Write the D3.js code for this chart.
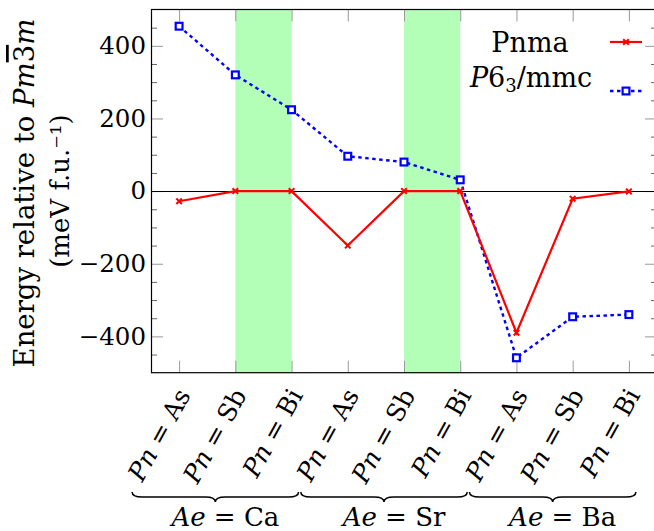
<!DOCTYPE html>
<html>
<head>
<meta charset="utf-8">
<script src="https://cdn.jsdelivr.net/npm/d3@7"></script>
<style>
  body { margin: 0; background: #fff; }
  text { font-family: "DejaVu Serif", serif; fill: #000; }
</style>
</head>
<body>
<svg id="chart" width="654" height="531"></svg>
<script>
// data
var positions = [1, 2, 3, 4, 5, 6, 7, 8, 9];
var pnLabels = ["As", "Sb", "Bi", "As", "Sb", "Bi", "As", "Sb", "Bi"];
var aeGroups = ["Ca", "Sr", "Ba"];
var pnmaValues = [-28, 0, 0, -150, 0, 0, -390, -21, -1];
var p63Values = [454, 320, 224, 96, 80, 31, -459, -346, -340];
var bands = [[2, 3], [5, 6]];
var yMajor = [-400, -200, 0, 200, 400];

var svg = d3.select("#chart"),
    pLeft = 151, pRight = 657, pTop = 9.5, pBottom = 372.7;

var x = d3.scaleLinear().domain([0.5, 9.5]).range([pLeft, pRight]);
var y = d3.scaleLinear().domain([-500, 500]).range([pBottom, pTop]);

var yMinor = d3.range(-450, 500, 50).filter(function (v) { return v % 200 != 0; });

// stretch a text to a given length with letter spacing (the LaTeX font runs wider)
function fitLength(sel, target) {
    sel.each(function () {
        var n = this.getNumberOfChars();
        var len = this.getComputedTextLength();
        if (n > 1 && len < target) d3.select(this).style("letter-spacing", ((target - len) / n) + "px");
    });
}

// green bands
svg.selectAll(".band")
    .data(bands)
    .enter()
    .append("rect")
    .attr("x", function (d) { return x(d[0]); })
    .attr("y", pTop)
    .attr("width", function (d) { return x(d[1]) - x(d[0]); })
    .attr("height", pBottom - pTop)
    .attr("fill", "#b3ffb8");

// ticks (pointing inward)
function tickStyle(g, col) {
    g.select(".domain").remove();
    g.selectAll(".tick line").attr("stroke", col).attr("stroke-width", 1);
}

svg.append("g").attr("transform", "translate(" + pLeft + ",0)")
    .call(d3.axisLeft(y).tickValues(yMinor).tickSize(-6).tickFormat(""))
    .call(tickStyle, "#666");
svg.append("g").attr("transform", "translate(" + pRight + ",0)")
    .call(d3.axisRight(y).tickValues(yMinor).tickSize(-6).tickFormat(""))
    .call(tickStyle, "#666");

var yAxis = svg.append("g").attr("transform", "translate(" + pLeft + ",0)")
    .call(d3.axisLeft(y).tickValues(yMajor).tickSize(-12).tickPadding(5)
        .tickFormat(function (d) { return d < 0 ? "\u2212" + (-d) : d; }))
    .call(tickStyle, "#999");
yAxis.selectAll("text")
    .style("font-family", "'DejaVu Serif', serif")
    .style("font-size", "24.5px")
    .attr("fill", "#000");

svg.append("g").attr("transform", "translate(" + pRight + ",0)")
    .call(d3.axisRight(y).tickValues(yMajor).tickSize(-12).tickFormat(""))
    .call(tickStyle, "#999");

svg.append("g").attr("transform", "translate(0," + pBottom + ")")
    .call(d3.axisBottom(x).tickValues(positions).tickSize(-12).tickFormat(""))
    .call(tickStyle, "#999");
svg.append("g").attr("transform", "translate(0," + pTop + ")")
    .call(d3.axisTop(x).tickValues(positions).tickSize(-12).tickFormat(""))
    .call(tickStyle, "#999");

// zero line
svg.append("line")
    .attr("x1", pLeft).attr("x2", pRight)
    .attr("y1", Math.round(y(0)) + 0.5).attr("y2", Math.round(y(0)) + 0.5)
    .attr("stroke", "#000").attr("stroke-width", 1.1);

// frame
svg.append("rect")
    .attr("x", pLeft + 0.5).attr("y", pTop)
    .attr("width", pRight - pLeft).attr("height", pBottom - pTop)
    .attr("fill", "none").attr("stroke", "#000").attr("stroke-width", 1.2);

// series
var line = d3.line()
    .x(function (d, i) { return x(positions[i]); })
    .y(function (d) { return y(d); });

svg.append("path")
    .datum(p63Values)
    .attr("d", line)
    .attr("fill", "none")
    .attr("stroke", "#0000ff")
    .attr("stroke-width", 2.4)
    .attr("stroke-dasharray", "3.5,3.5");

svg.append("path")
    .datum(pnmaValues)
    .attr("d", line)
    .attr("fill", "none")
    .attr("stroke", "#ff0000")
    .attr("stroke-width", 2.2);

function crossMark(sel, r) {
    sel.append("path")
        .attr("d", "M" + (-r) + "," + (-r) + "L" + r + "," + r + "M" + (-r) + "," + r + "L" + r + "," + (-r))
        .attr("stroke", "#ff0000").attr("stroke-width", 2).attr("fill", "none");
}
function squareMark(sel, r) {
    sel.append("rect")
        .attr("x", -r).attr("y", -r).attr("width", 2 * r).attr("height", 2 * r)
        .attr("stroke", "#0000ff").attr("stroke-width", 2.2).attr("fill", "#fff");
}

svg.selectAll(".mk-blue")
    .data(p63Values)
    .enter()
    .append("g")
    .attr("transform", function (d, i) { return "translate(" + x(positions[i]) + "," + y(d) + ")"; })
    .call(squareMark, 3.4);

svg.selectAll(".mk-red")
    .data(pnmaValues)
    .enter()
    .append("g")
    .attr("transform", function (d, i) { return "translate(" + x(positions[i]) + "," + y(d) + ")"; })
    .call(crossMark, 2.8);

// legend
var lg = svg.append("g");
lg.append("text").attr("x", 530).attr("y", 52)
    .attr("text-anchor", "middle").style("font-size", "27px").text("Pnma");
var t2 = lg.append("text").attr("x", 531).attr("y", 87)
    .attr("text-anchor", "middle").style("font-size", "27px");
t2.append("tspan").attr("font-style", "italic").text("P");
t2.append("tspan").text("6");
t2.append("tspan").attr("font-size", "18px").attr("dy", 5).text("3");
t2.append("tspan").attr("dy", -5).text("/mmc");

lg.append("line").attr("x1", 610).attr("x2", 642).attr("y1", 42).attr("y2", 42)
    .attr("stroke", "#ff0000").attr("stroke-width", 2.2);
lg.append("g").attr("transform", "translate(626,42)").call(crossMark, 2.8);
lg.append("line").attr("x1", 610).attr("x2", 642).attr("y1", 91).attr("y2", 91)
    .attr("stroke", "#0000ff").attr("stroke-width", 2.4).attr("stroke-dasharray", "3.5,3.5");
lg.append("g").attr("transform", "translate(626,91)").call(squareMark, 3.4);

// y axis label
var yl = svg.append("text")
    .attr("transform", "translate(34," + (y(0) + 2) + ") rotate(-90)")
    .attr("text-anchor", "middle")
    .style("font-size", "27.5px");
yl.append("tspan").text("Energy relative to ");
yl.append("tspan").attr("font-style", "italic").text("Pm");
yl.append("tspan").style("text-decoration", "overline").text("3");
yl.append("tspan").attr("font-style", "italic").text("m");
fitLength(yl, 310);

var yl2 = svg.append("text")
    .attr("transform", "translate(69," + y(0) + ") rotate(-90)")
    .attr("text-anchor", "middle")
    .style("font-size", "26px")
    .text("(meV f.u.\u207B\u00B9)");
fitLength(yl2, 132);

// x tick labels, rotated
var xl = svg.selectAll(".xlab")
    .data(pnLabels)
    .enter()
    .append("text")
    .attr("class", "xlab")
    .attr("text-anchor", "end")
    .style("font-size", "25px")
    .attr("transform", function (d, i) {
        return "translate(" + (x(positions[i]) + 12) + ",395) rotate(-61)";
    });
xl.append("tspan").attr("font-style", "italic").text("Pn");
xl.append("tspan").text(" = ");
xl.append("tspan").text(function (d) { return d; });

// braces under each group
function bracePath(x1, x2, y0, h) {
    var xm = (x1 + x2) / 2, r = h / 2;
    return "M" + x1 + "," + y0 +
        "Q" + x1 + "," + (y0 + r) + " " + (x1 + r * 2) + "," + (y0 + r) +
        "L" + (xm - r * 2) + "," + (y0 + r) +
        "Q" + xm + "," + (y0 + r) + " " + xm + "," + (y0 + h) +
        "Q" + xm + "," + (y0 + r) + " " + (xm + r * 2) + "," + (y0 + r) +
        "L" + (x2 - r * 2) + "," + (y0 + r) +
        "Q" + x2 + "," + (y0 + r) + " " + x2 + "," + y0;
}

var grp = svg.selectAll(".grp")
    .data(aeGroups)
    .enter()
    .append("g");

grp.append("path")
    .attr("d", function (d, i) {
        return bracePath(x(positions[i * 3]) - 47, x(positions[i * 3 + 2]) + 7, 492, 10);
    })
    .attr("fill", "none")
    .attr("stroke", "#000")
    .attr("stroke-width", 1.5);

var gl = grp.append("text")
    .attr("x", function (d, i) { return (x(positions[i * 3]) - 47 + x(positions[i * 3 + 2]) + 7) / 2 + 10; })
    .attr("y", 526)
    .attr("text-anchor", "middle")
    .style("font-size", "26px");
gl.append("tspan").attr("font-style", "italic").text("Ae");
gl.append("tspan").text(" = ");
gl.append("tspan").text(function (d) { return d; });
</script>
</body>
</html>
